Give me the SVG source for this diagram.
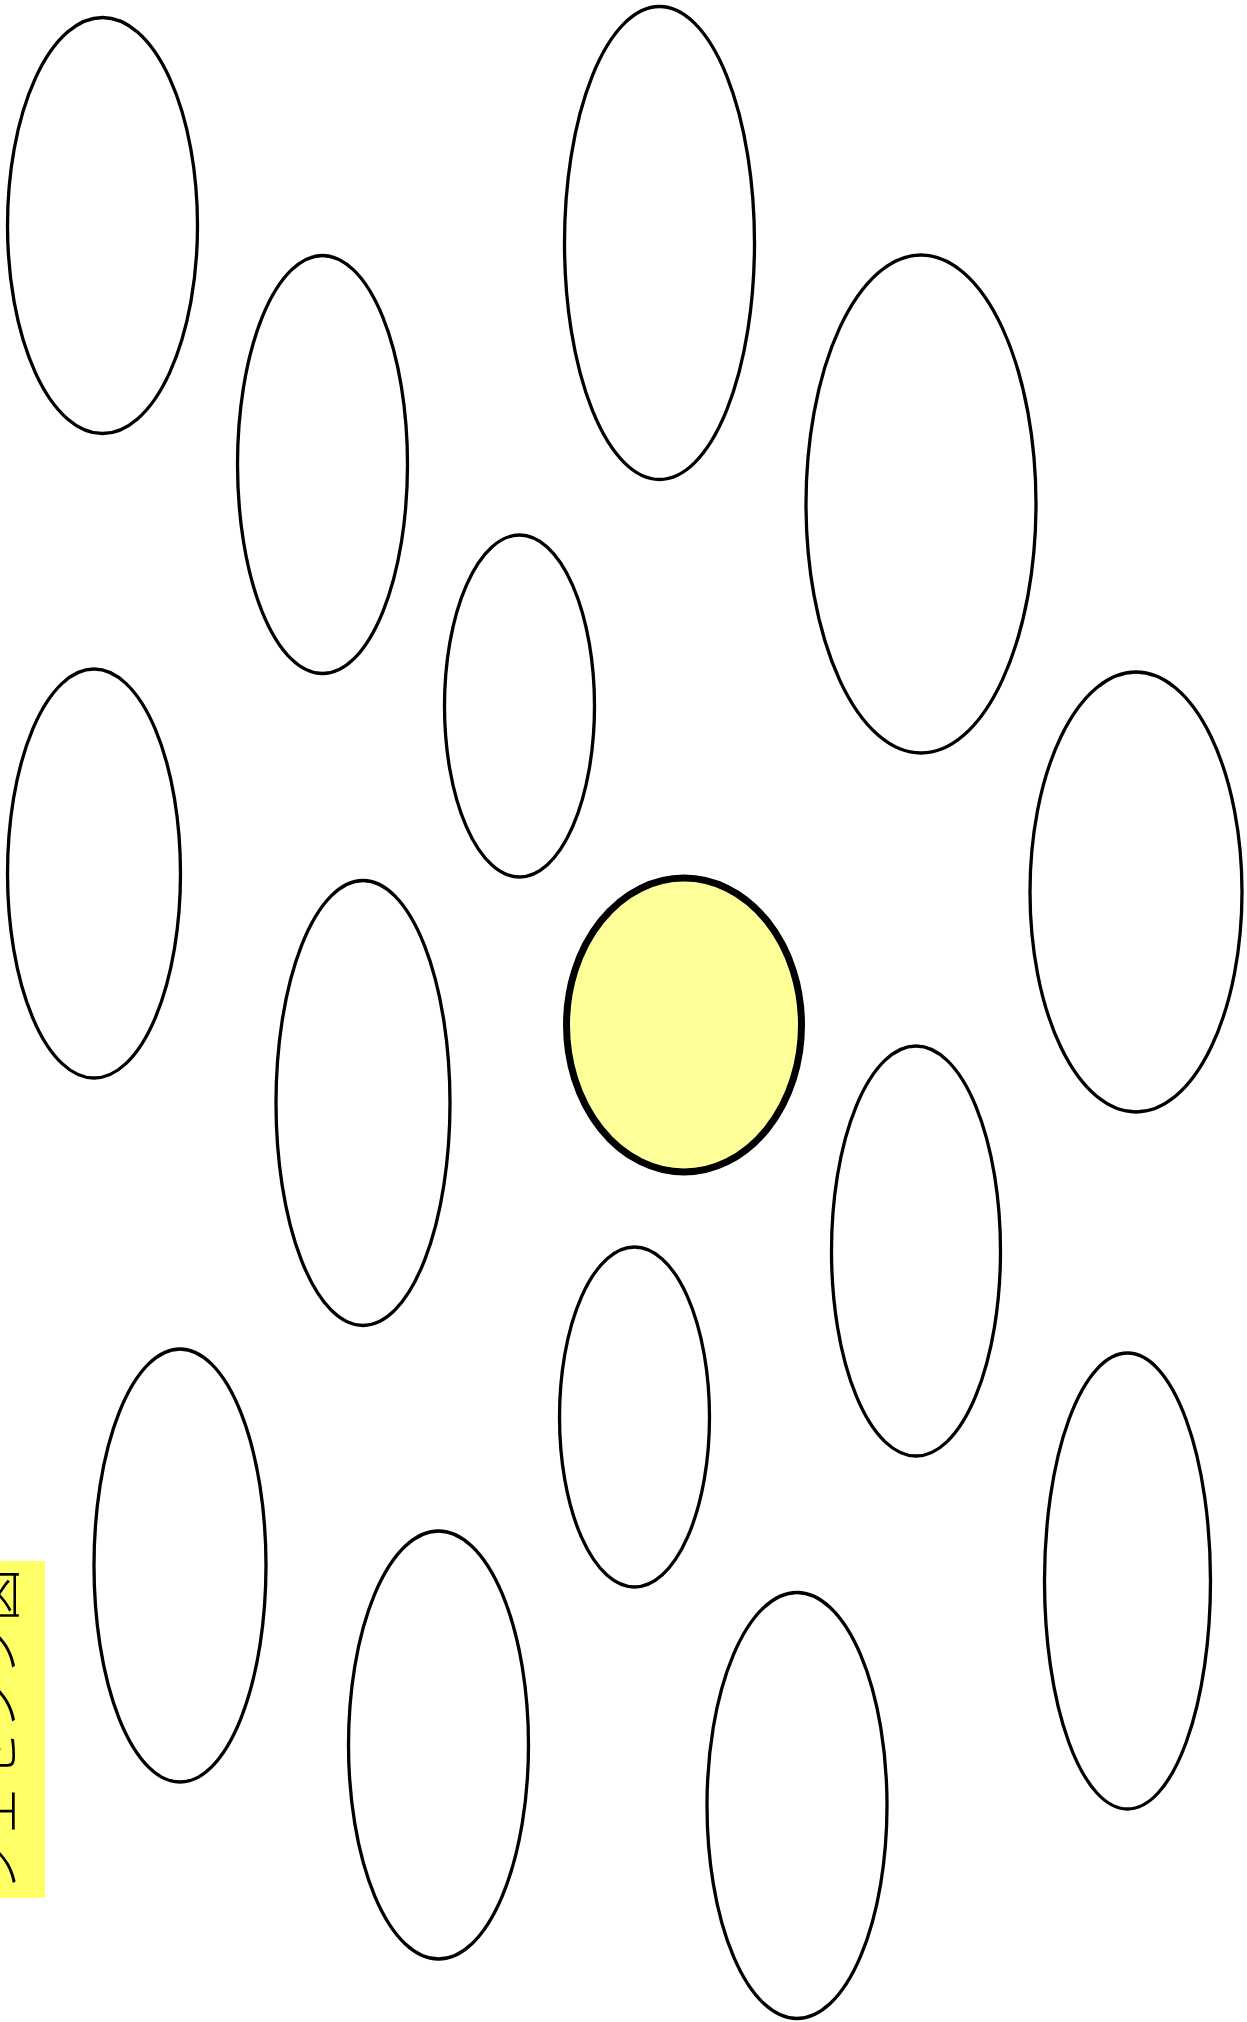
<svg xmlns="http://www.w3.org/2000/svg" width="1247" height="2022" viewBox="0 0 1247 2022">
<style>
.n{fill:#ffffff;stroke:#000000;stroke-width:3.3}
.hl{fill:#ffff99;stroke:#000000;stroke-width:7}
.lbl{fill:#ffff66;stroke:none}
.t{font-family:'Noto Sans CJK JP','Noto Sans CJK SC',sans-serif;font-size:54px;font-weight:300;fill:#000000}
</style>
<rect width="1247" height="2022" fill="#ffffff"/>
<g id="n1"><ellipse class="n" cx="102.5" cy="225.5" rx="95" ry="208"/></g>
<g id="n2"><ellipse class="n" cx="322.5" cy="464.5" rx="85" ry="209"/></g>
<g id="n3"><ellipse class="n" cx="659.5" cy="243" rx="95" ry="236.5"/></g>
<g id="n4"><ellipse class="n" cx="921" cy="504" rx="115" ry="249"/></g>
<g id="n5"><ellipse class="n" cx="519.5" cy="706" rx="75" ry="171"/></g>
<g id="n6"><ellipse class="n" cx="94" cy="873.5" rx="86.5" ry="204.5"/></g>
<g id="n7"><ellipse class="n" cx="1136" cy="892" rx="106" ry="220"/></g>
<g id="n8"><ellipse class="n" cx="363" cy="1103" rx="87" ry="222.5"/></g>
<g id="n9"><ellipse class="hl" cx="684" cy="1025" rx="117.5" ry="147"/></g>
<g id="n10"><ellipse class="n" cx="916" cy="1251" rx="84.5" ry="205"/></g>
<g id="n11"><ellipse class="n" cx="634.5" cy="1417" rx="75" ry="170"/></g>
<g id="n12"><ellipse class="n" cx="180" cy="1565.5" rx="86" ry="216.5"/></g>
<g id="n13"><ellipse class="n" cx="1127.5" cy="1581" rx="83" ry="228"/></g>
<g id="n14"><ellipse class="n" cx="438.5" cy="1745" rx="90" ry="214"/></g>
<g id="n15"><ellipse class="n" cx="797" cy="1805.5" rx="90" ry="213"/></g>
<g id="label">
<rect class="lbl" x="0" y="1561" width="45" height="337"/>
<text class="t" transform="translate(14.5,1730) rotate(-90)" text-anchor="middle">シェセンン図</text>
</g>
</svg>
